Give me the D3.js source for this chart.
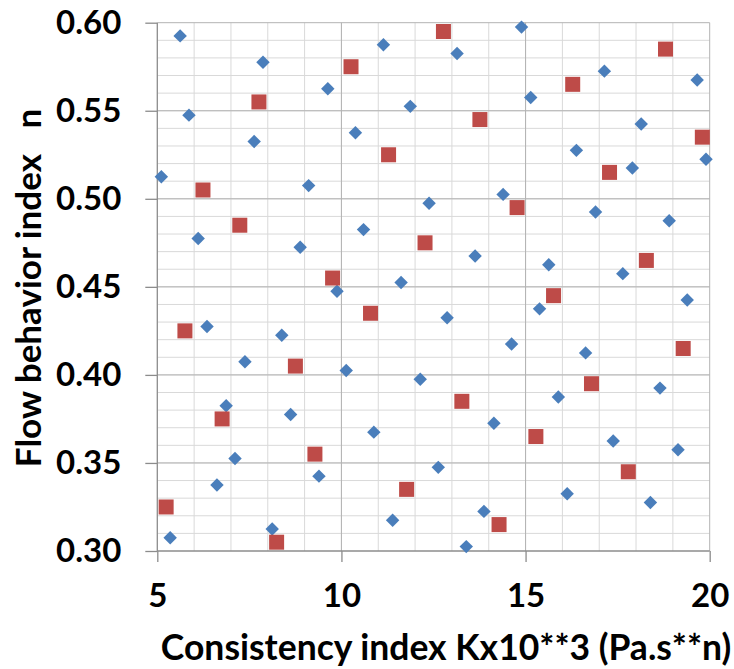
<!DOCTYPE html>
<html>
<head>
<meta charset="utf-8">
<script src="https://cdn.jsdelivr.net/npm/d3@7"></script>
<style>
  body { margin: 0; background: #fff; }
  text { font-family: Lato, "Open Sans", sans-serif; font-weight: bold; fill: #000; }
</style>
</head>
<body>
<div id="chart"></div>
<script>
// series 1 (blue diamonds): x = K, y = n
var blueX = [13.39, 5.35, 8.12, 11.39, 13.87, 18.39, 16.13, 6.62, 9.39, 12.63,
             7.11, 19.14, 17.38, 10.88, 14.14, 8.62, 6.87, 15.89, 18.65, 12.14,
             10.13, 7.38, 16.63, 14.62, 8.38, 6.35, 12.87, 15.38, 19.39, 9.88,
             11.62, 17.64, 15.63, 13.63, 8.88, 6.11, 10.6, 18.9, 16.9, 12.38,
             14.39, 9.11, 5.11, 17.9, 19.9, 16.38, 7.63, 10.38, 18.14, 5.86,
             11.87, 15.14, 9.63, 19.66, 17.14, 7.87, 13.14, 11.14, 5.62, 14.89];
var blueY = [0.3025, 0.3075, 0.3125, 0.3175, 0.3225, 0.3275, 0.3325, 0.3375, 0.3425, 0.3475,
             0.3525, 0.3575, 0.3625, 0.3675, 0.3725, 0.3775, 0.3825, 0.3875, 0.3925, 0.3975,
             0.4025, 0.4075, 0.4125, 0.4175, 0.4225, 0.4275, 0.4325, 0.4375, 0.4425, 0.4475,
             0.4525, 0.4575, 0.4625, 0.4675, 0.4725, 0.4775, 0.4825, 0.4875, 0.4925, 0.4975,
             0.5025, 0.5075, 0.5125, 0.5175, 0.5225, 0.5275, 0.5325, 0.5375, 0.5425, 0.5475,
             0.5525, 0.5575, 0.5625, 0.5675, 0.5725, 0.5775, 0.5825, 0.5875, 0.5925, 0.5975];

// series 2 (red squares)
var redX = [8.24, 14.28, 5.24, 11.77, 17.79, 9.28, 15.28, 6.76, 13.27, 16.79,
            8.75, 19.28, 5.75, 10.79, 15.76, 9.76, 18.28, 12.27, 7.24, 14.77,
            6.24, 17.28, 11.28, 19.8, 13.76, 7.76, 16.28, 10.26, 18.8, 12.77];
var redY = [0.305, 0.315, 0.325, 0.335, 0.345, 0.355, 0.365, 0.375, 0.385, 0.395,
            0.405, 0.415, 0.425, 0.435, 0.445, 0.455, 0.465, 0.475, 0.485, 0.495,
            0.505, 0.515, 0.525, 0.535, 0.545, 0.555, 0.565, 0.575, 0.585, 0.595];

var xTicks = [5, 10, 15, 20];
var yTicks = [0.30, 0.35, 0.40, 0.45, 0.50, 0.55, 0.60];

var width = 734, height = 669;
var margin = { top: 22.7, right: 24.3, bottom: 118, left: 157.3 };
var w = width - margin.left - margin.right,
    h = height - margin.top - margin.bottom;

var svg = d3.select("#chart").append("svg")
    .attr("width", width)
    .attr("height", height);

var g = svg.append("g")
    .attr("transform", "translate(" + margin.left + "," + margin.top + ")");

var x = d3.scaleLinear().domain([5, 20]).range([0, w]);
var y = d3.scaleLinear().domain([0.30, 0.60]).range([h, 0]);

// minor grid
g.append("g")
    .selectAll("line")
    .data(d3.range(6, 20))
    .join("line")
    .attr("x1", d => x(d)).attr("x2", d => x(d))
    .attr("y1", 0).attr("y2", h)
    .attr("stroke", "#d9d9d9");

g.append("g")
    .selectAll("line")
    .data(d3.range(31, 60).map(d => d / 100))
    .join("line")
    .attr("x1", 0).attr("x2", w)
    .attr("y1", d => y(d)).attr("y2", d => y(d))
    .attr("stroke", "#d9d9d9");

// major grid
g.append("g")
    .selectAll("line")
    .data(xTicks.slice(1))
    .join("line")
    .attr("x1", d => x(d)).attr("x2", d => x(d))
    .attr("y1", 0).attr("y2", h)
    .attr("stroke", "#b3b3b3");

g.append("g")
    .selectAll("line")
    .data(yTicks.slice(1))
    .join("line")
    .attr("x1", 0).attr("x2", w)
    .attr("y1", d => y(d)).attr("y2", d => y(d))
    .attr("stroke", "#b3b3b3");

// axes
var xAxis = g.append("g")
    .attr("transform", "translate(0," + h + ")")
    .call(d3.axisBottom(x).tickValues(xTicks).tickSize(11).tickPadding(22).tickFormat(d3.format("d")));
var yAxis = g.append("g")
    .call(d3.axisLeft(y).tickValues(yTicks).tickSize(12).tickPadding(24).tickFormat(d3.format(".2f")));

[xAxis, yAxis].forEach(a => {
    a.select(".domain").attr("stroke", "#8c8c8c").attr("stroke-width", 1.3);
    a.selectAll(".tick line").attr("stroke", "#8c8c8c").attr("stroke-width", 1.3);
    a.selectAll("text").attr("font-size", 33).attr("font-family", "Lato, sans-serif").attr("font-weight", "bold").attr("fill", "#000");
});
xAxis.select(".domain").attr("d", "M0,0H" + w);
yAxis.select(".domain").attr("d", "M0," + h + "V0");

// points
var diamond = d3.symbol().type(d3.symbolDiamond2).size(115);
g.append("g")
    .selectAll("path")
    .data(blueX.map((d, i) => [d, blueY[i]]))
    .join("path")
    .attr("transform", d => "translate(" + x(d[0]) + "," + y(d[1]) + ")")
    .attr("d", diamond)
    .attr("fill", "#4a7ebb");

var s = 15;
g.append("g")
    .selectAll("rect")
    .data(redX.map((d, i) => [d, redY[i]]))
    .join("rect")
    .attr("x", d => x(d[0]) - s / 2)
    .attr("y", d => y(d[1]) - s / 2)
    .attr("width", s).attr("height", s)
    .attr("fill", "#be4b48");

// titles
svg.append("text")
    .attr("x", 446)
    .attr("y", 660)
    .attr("text-anchor", "middle")
    .attr("font-size", 35.5)
    .text("Consistency index Kx10**3 (Pa.s**n)");

svg.append("text")
    .attr("transform", "translate(41,288) rotate(-90)")
    .attr("text-anchor", "middle")
    .attr("font-size", 35)
    .attr("xml:space", "preserve")
    .style("white-space", "pre")
    .text("Flow behavior index   n");
</script>
</body>
</html>
